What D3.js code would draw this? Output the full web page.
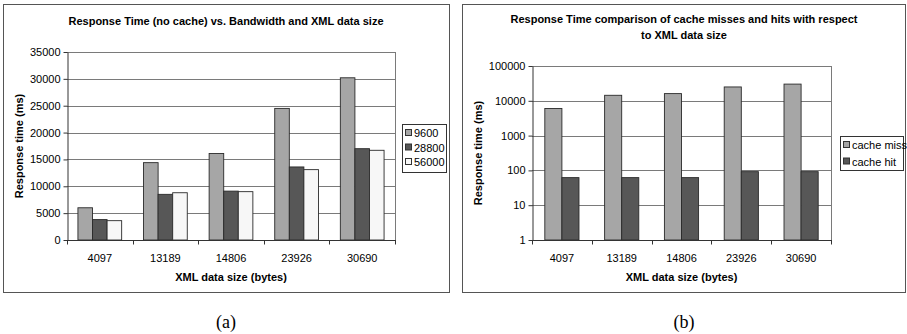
<!DOCTYPE html>
<html>
<head>
<meta charset="utf-8">
<script src="https://cdn.jsdelivr.net/npm/d3@7"></script>
<style>
  body { margin: 0; background: #fff; }
  svg text { font-family: Arial, "Liberation Sans", sans-serif; fill: #000; }
</style>
</head>
<body>
<svg id="chart" width="907" height="334"></svg>
<script>
// data
const sizes = ['4097', '13189', '14806', '23926', '30690'];

const bandwidths = ['9600', '28800', '56000'];
const bw9600 = [6000, 14400, 16100, 24500, 30200];
const bw28800 = [3800, 8500, 9100, 13600, 17000];
const bw56000 = [3600, 8800, 9000, 13100, 16700];
const leftTicks = [0, 5000, 10000, 15000, 20000, 25000, 30000, 35000];

const cacheSeries = ['cache miss', 'cache hit'];
const cacheMiss = [6000, 14400, 16100, 25000, 30200];
const cacheHit = [62, 62, 62, 92, 92];
const rightTicks = [1, 10, 100, 1000, 10000, 100000];

const svg = d3.select('#chart');

function drawPanel(opt) {
    const g = svg.append('g');

    // outer frame
    g.append('rect')
        .attr('x', opt.frame[0] + 0.5).attr('y', opt.frame[1] + 0.5)
        .attr('width', opt.frame[2]).attr('height', opt.frame[3])
        .attr('fill', '#fff').attr('stroke', '#555').attr('stroke-width', 1);

    const x0 = d3.scaleBand().domain(sizes)
        .range([opt.plot.left, opt.plot.right]).paddingInner(0).paddingOuter(0);
    const nb = opt.series.length;
    const bw = x0.bandwidth() / (nb + 1.5); // excel gap width 150%
    const y = opt.yScale.range([opt.plot.bottom, opt.plot.top]);

    // gridlines
    g.selectAll('.grid').data(opt.ticks).join('line')
        .attr('x1', opt.plot.left).attr('x2', opt.plot.right)
        .attr('y1', d => Math.round(y(d)) + 0.5).attr('y2', d => Math.round(y(d)) + 0.5)
        .attr('stroke', '#7a7a7a').attr('stroke-width', 1);

    // plot border (right edge)
    g.append('line')
        .attr('x1', opt.plot.right + 0.5).attr('x2', opt.plot.right + 0.5)
        .attr('y1', opt.plot.top).attr('y2', opt.plot.bottom)
        .attr('stroke', '#7a7a7a');

    // bars
    opt.series.forEach((s, i) => {
        g.selectAll('.b' + i).data(s.values).join('rect')
            .attr('x', (d, j) => x0(sizes[j]) + bw * 0.75 + bw * i)
            .attr('y', d => y(d))
            .attr('width', bw)
            .attr('height', d => opt.plot.bottom - y(d))
            .attr('fill', s.color)
            .attr('stroke', '#2a2a2a').attr('stroke-width', 0.9);
    });

    // y axis
    const yAxis = d3.axisLeft(y).tickValues(opt.ticks)
        .tickFormat(d3.format('d')).tickSizeInner(4).tickSizeOuter(0).tickPadding(3);
    const ay = g.append('g')
        .attr('transform', `translate(${opt.plot.left + 0.5},0)`)
        .call(yAxis);
    ay.selectAll('text').attr('font-size', 11).attr('fill', '#000');
    ay.selectAll('line').attr('stroke', '#333');
    ay.select('.domain').attr('stroke', '#333');

    // x axis: ticks at category boundaries
    const ax = g.append('g')
        .attr('transform', `translate(0,${opt.plot.bottom + 0.5})`);
    ax.append('line')
        .attr('x1', opt.plot.left).attr('x2', opt.plot.right + 1)
        .attr('stroke', '#333');
    const bounds = sizes.map(s => x0(s)).concat([opt.plot.right]);
    ax.selectAll('.tk').data(bounds).join('line')
        .attr('x1', d => Math.round(d) + 0.5).attr('x2', d => Math.round(d) + 0.5)
        .attr('y1', 0).attr('y2', 4).attr('stroke', '#333');
    ax.selectAll('.lb').data(sizes).join('text')
        .attr('x', d => x0(d) + x0.bandwidth() / 2)
        .attr('y', 21)
        .attr('text-anchor', 'middle')
        .attr('font-size', 11)
        .text(d => d);

    // axis titles
    g.append('text')
        .attr('x', (opt.plot.left + opt.plot.right) / 2)
        .attr('y', opt.plot.bottom + 41)
        .attr('text-anchor', 'middle')
        .attr('font-size', 11).attr('font-weight', 'bold')
        .text('XML data size (bytes)');
    g.append('text')
        .attr('transform', `translate(${opt.ytitleX},${(opt.plot.top + opt.plot.bottom) / 2}) rotate(-90)`)
        .attr('text-anchor', 'middle')
        .attr('font-size', 11).attr('font-weight', 'bold')
        .text('Response time (ms)');

    // chart title
    opt.title.forEach((t, i) => {
        g.append('text')
            .attr('x', opt.titleX).attr('y', opt.titleY + i * 15.5)
            .attr('text-anchor', 'middle')
            .attr('font-size', 11).attr('font-weight', 'bold')
            .text(t);
    });

    // legend
    const L = opt.legend;
    g.append('rect')
        .attr('x', L.x + 0.5).attr('y', L.y + 0.5)
        .attr('width', L.w).attr('height', L.h)
        .attr('fill', '#fff').attr('stroke', '#333');
    opt.series.forEach((s, i) => {
        const cy = L.y + L.first + i * L.step;
        g.append('rect')
            .attr('x', L.x + 3.5).attr('y', cy - 3.5)
            .attr('width', 6).attr('height', 6)
            .attr('fill', s.color).attr('stroke', '#333');
        g.append('text')
            .attr('x', L.x + 12).attr('y', cy + 4)
            .attr('font-size', 11)
            .text(s.name);
    });

    // caption
    svg.append('text')
        .attr('x', opt.titleX).attr('y', 328)
        .attr('text-anchor', 'middle')
        .style('font-family', '"Liberation Serif", "Times New Roman", serif')
        .attr('font-size', 18)
        .text(opt.caption);
}

drawPanel({
    frame: [3, 4, 446, 288],
    plot: { left: 67, right: 395, top: 52, bottom: 240 },
    yScale: d3.scaleLinear().domain([0, 35000]),
    ticks: leftTicks,
    series: [
        { name: bandwidths[0], values: bw9600, color: '#a6a6a6' },
        { name: bandwidths[1], values: bw28800, color: '#575757' },
        { name: bandwidths[2], values: bw56000, color: '#f7f7f7' }
    ],
    title: ['Response Time (no cache) vs. Bandwidth and XML data size'],
    titleX: 226, titleY: 25,
    ytitleX: 23,
    legend: { x: 402, y: 124, w: 44, h: 48, first: 9, step: 14.5 },
    caption: '(a)'
});

drawPanel({
    frame: [462, 4, 443, 288],
    plot: { left: 532, right: 831, top: 66, bottom: 240 },
    yScale: d3.scaleLog().domain([1, 100000]),
    ticks: rightTicks,
    series: [
        { name: cacheSeries[0], values: cacheMiss, color: '#a6a6a6' },
        { name: cacheSeries[1], values: cacheHit, color: '#575757' }
    ],
    title: ['Response Time comparison of cache misses and hits with respect', 'to XML data size'],
    titleX: 684, titleY: 23,
    ytitleX: 482,
    legend: { x: 840, y: 136, w: 63, h: 34, first: 9, step: 16.5 },
    caption: '(b)'
});
</script>
</body>
</html>
